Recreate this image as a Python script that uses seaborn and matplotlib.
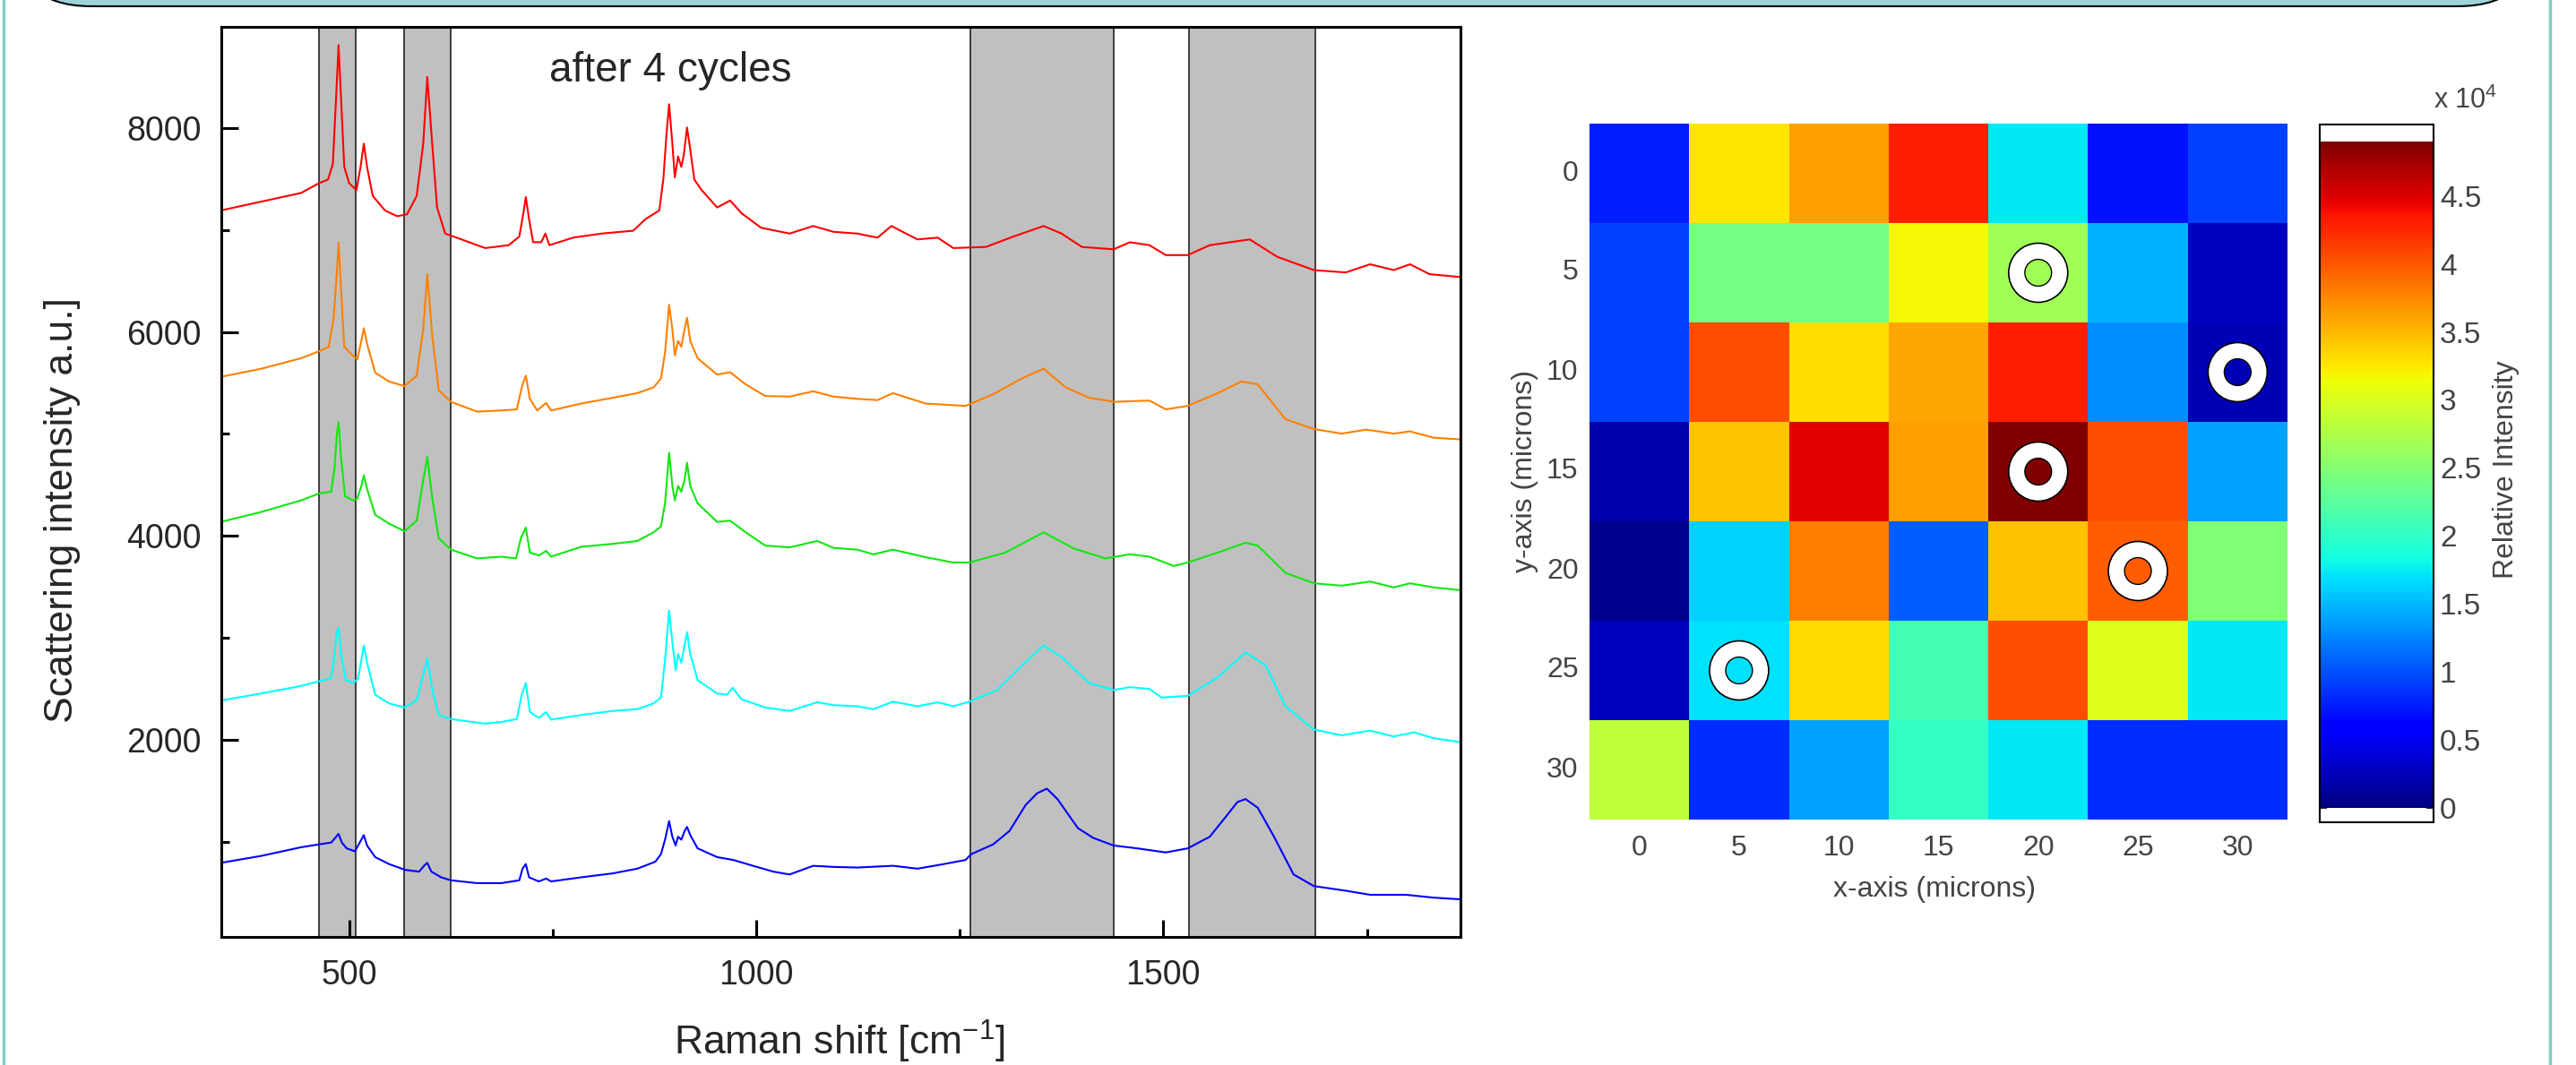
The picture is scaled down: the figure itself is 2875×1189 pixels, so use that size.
import numpy as np
import pandas as pd
import seaborn as sns
import matplotlib.pyplot as plt
import matplotlib.patches as patches
from matplotlib.lines import Line2D
from matplotlib.transforms import IdentityTransform

# Raman spectra: (shift in cm-1, intensity a.u.)
red = [(342.5, 7191), (392, 7277), (441, 7362), (463, 7458), (474, 7493), (480, 7646), (484, 8300),
       (487, 8811), (490, 8300), (494, 7618), (500, 7458), (509, 7390), (514, 7618), (518, 7845),
       (522, 7618), (529, 7333), (544, 7191), (559, 7134), (571, 7152), (583, 7333), (591, 7845),
       (596, 8499), (602, 7845), (608, 7220), (618, 6964), (638, 6907), (667, 6822), (696, 6850),
       (709, 6935), (714, 7163), (717, 7322), (721, 7106), (726, 6879), (736, 6879), (741, 6964),
       (746, 6850), (775, 6924), (810, 6964), (849, 6992), (864, 7106), (881, 7191), (886, 7504),
       (890, 7959), (893, 8232), (897, 7845), (900, 7515), (904, 7720), (908, 7618), (911, 7732),
       (915, 8004), (919, 7788), (924, 7493), (933, 7390), (952, 7220), (968, 7288), (982, 7163),
       (1006, 7021), (1041, 6964), (1070, 7038), (1095, 6981), (1124, 6964), (1149, 6924),
       (1166, 7038), (1198, 6907), (1223, 6924), (1242, 6822), (1282, 6833), (1316, 6935),
       (1353, 7038), (1375, 6964), (1400, 6833), (1439, 6810), (1459, 6879), (1483, 6850),
       (1503, 6753), (1530, 6753), (1557, 6850), (1606, 6907), (1640, 6736), (1685, 6606),
       (1724, 6583), (1754, 6663), (1783, 6606), (1803, 6663), (1827, 6566), (1866, 6537)]

orange = [(342.5, 5560), (392, 5639), (441, 5742), (463, 5810), (475, 5855), (481, 6139), (485, 6594),
          (487, 6878), (490, 6424), (494, 5855), (502, 5787), (510, 5730), (515, 5912), (518, 6037),
          (522, 5884), (532, 5600), (549, 5514), (568, 5469), (583, 5571), (591, 6026), (596, 6566),
          (602, 5969), (610, 5429), (625, 5315), (657, 5219), (687, 5230), (706, 5241), (712, 5457),
          (717, 5571), (722, 5344), (731, 5230), (742, 5304), (748, 5230), (785, 5298), (824, 5355),
          (854, 5400), (874, 5457), (883, 5543), (888, 5798), (893, 6265), (897, 6026), (900, 5770),
          (904, 5912), (908, 5855), (912, 6026), (915, 6139), (919, 5912), (928, 5742), (952, 5582),
          (968, 5605), (987, 5486), (1011, 5372), (1041, 5366), (1070, 5418), (1095, 5366),
          (1124, 5344), (1149, 5332), (1168, 5400), (1208, 5298), (1257, 5275), (1291, 5389),
          (1326, 5543), (1353, 5639), (1380, 5457), (1409, 5355), (1439, 5315), (1483, 5327),
          (1503, 5241), (1530, 5275), (1567, 5400), (1596, 5514), (1616, 5486), (1650, 5145),
          (1685, 5048), (1719, 5003), (1749, 5042), (1783, 5003), (1803, 5025), (1832, 4963),
          (1866, 4946)]

green = [(342.5, 4138), (392, 4235), (441, 4349), (463, 4417), (478, 4434), (482, 4661), (485, 5003),
         (487, 5116), (490, 4775), (495, 4389), (505, 4349), (510, 4366), (515, 4491), (518, 4593),
         (522, 4462), (532, 4207), (549, 4121), (568, 4047), (583, 4150), (591, 4548), (596, 4775),
         (602, 4377), (610, 3979), (625, 3866), (657, 3780), (687, 3797), (705, 3780), (711, 3979),
         (717, 4082), (722, 3837), (733, 3809), (742, 3854), (748, 3797), (785, 3894), (824, 3923),
         (854, 3951), (874, 4036), (883, 4093), (888, 4320), (893, 4815), (897, 4491), (900, 4349),
         (904, 4491), (908, 4434), (912, 4548), (915, 4718), (919, 4491), (928, 4320), (952, 4138),
         (968, 4150), (987, 4036), (1011, 3906), (1041, 3888), (1075, 3951), (1095, 3883),
         (1124, 3866), (1144, 3820), (1168, 3866), (1208, 3792), (1242, 3740), (1262, 3740),
         (1306, 3837), (1353, 4036), (1390, 3877), (1429, 3780), (1459, 3820), (1483, 3797),
         (1513, 3706), (1530, 3740), (1567, 3837), (1601, 3934), (1616, 3905), (1650, 3638),
         (1685, 3536), (1719, 3513), (1754, 3553), (1783, 3496), (1803, 3536), (1832, 3496),
         (1866, 3468)]

cyan = [(342.5, 2387), (392, 2456), (441, 2530), (463, 2575), (478, 2604), (482, 2842), (485, 3070),
        (487, 3098), (490, 2842), (496, 2587), (505, 2558), (511, 2604), (515, 2786), (518, 2927),
        (522, 2757), (532, 2444), (549, 2359), (568, 2319), (583, 2387), (591, 2643), (596, 2802),
        (602, 2501), (610, 2245), (625, 2206), (667, 2160), (687, 2177), (706, 2206), (712, 2444),
        (717, 2558), (722, 2274), (733, 2217), (742, 2274), (748, 2200), (785, 2245), (824, 2285),
        (854, 2302), (874, 2359), (883, 2416), (888, 2786), (893, 3269), (897, 2956), (901, 2683),
        (904, 2842), (908, 2757), (912, 2927), (915, 3058), (919, 2842), (928, 2587), (952, 2456),
        (964, 2444), (971, 2512), (982, 2399), (1011, 2319), (1041, 2285), (1075, 2370),
        (1095, 2342), (1124, 2331), (1144, 2302), (1168, 2376), (1198, 2331), (1223, 2370),
        (1242, 2331), (1262, 2376), (1296, 2490), (1326, 2728), (1353, 2927), (1375, 2814),
        (1409, 2558), (1439, 2490), (1459, 2518), (1483, 2501), (1498, 2416), (1530, 2433),
        (1567, 2615), (1601, 2859), (1626, 2728), (1650, 2331), (1685, 2103), (1719, 2046),
        (1754, 2092), (1783, 2035), (1808, 2075), (1832, 2018), (1866, 1978)]

blue = [(342.5, 796), (392, 864), (441, 949), (463, 977), (478, 995), (484, 1052), (487, 1080),
        (491, 995), (497, 938), (507, 909), (515, 1023), (518, 1068), (522, 966), (532, 852),
        (549, 784), (569, 727), (586, 710), (592, 767), (596, 796), (601, 710), (613, 654),
        (625, 625), (657, 597), (687, 597), (709, 625), (713, 739), (717, 784), (721, 654),
        (733, 614), (742, 642), (748, 614), (785, 654), (824, 693), (854, 739), (876, 807),
        (883, 881), (888, 1023), (893, 1205), (897, 1052), (901, 966), (904, 1052), (908, 1023),
        (912, 1108), (915, 1148), (919, 1068), (928, 938), (952, 852), (972, 824), (996, 767),
        (1021, 710), (1041, 682), (1070, 767), (1095, 756), (1124, 750), (1168, 767), (1198, 739),
        (1227, 779), (1257, 824), (1264, 881), (1291, 977), (1311, 1108), (1331, 1364),
        (1345, 1478), (1357, 1523), (1370, 1421), (1395, 1137), (1414, 1040), (1439, 966),
        (1468, 938), (1503, 898), (1530, 938), (1557, 1052), (1577, 1250), (1591, 1392),
        (1601, 1421), (1616, 1336), (1636, 1052), (1660, 682), (1685, 568), (1724, 523),
        (1754, 483), (1798, 483), (1832, 455), (1866, 438)]

trace_names = ["red", "orange", "green", "cyan", "blue"]
trace_colors = ["#ff0000", "#ff8000", "#10e810", "#00ffff", "#0000ff"]

# highlighted bands (cm-1)
band_lo = [463, 568, 1263, 1531]
band_hi = [508, 625, 1439, 1687]

# SERS intensity map (7 x 7 grid, microns)
map_ticks = [0, 5, 10, 15, 20, 25, 30]
map_values = [
    [7600, 32600, 36300, 42900, 17400, 6900, 9200],
    [9200, 24000, 24000, 31600, 26700, 14600, 2700],
    [9200, 40500, 33000, 35900, 42900, 13000, 2400],
    [2100, 34300, 44600, 36300, 49000, 40500, 13800],
    [700, 16100, 38000, 10700, 34600, 39700, 24700],
    [2700, 16900, 33300, 21100, 40500, 30400, 17300],
    [28400, 8400, 13800, 20100, 17300, 8400, 8400],
]
marked_x = [20, 30, 20, 25, 5]
marked_y = [5, 10, 15, 20, 25]
cbar_ticks = [0, 5000, 10000, 15000, 20000, 25000, 30000, 35000, 40000, 45000]
cbar_labels = ["0", "0.5", "1", "1.5", "2", "2.5", "3", "3.5", "4", "4.5"]

sns.set_style("white")
plt.rcParams["font.family"] = ["Liberation Sans", "DejaVu Sans"]
plt.rcParams["mathtext.fontset"] = "custom"
plt.rcParams["mathtext.rm"] = "Liberation Sans"
plt.rcParams["mathtext.it"] = "Liberation Sans"

W, H = 2875, 1189


def box(x0, y0, x1, y1):
    # pixel box (top-left origin) -> figure fraction rect
    return [x0 / W, 1 - y1 / H, (x1 - x0) / W, (y1 - y0) / H]


fig = plt.figure(figsize=(W / 100, H / 100), dpi=100)

# slide decorations: header bar and side rules
header = patches.FancyBboxPatch((12, H - 7), 2821, 200, boxstyle="round,pad=0,rounding_size=90",
                                facecolor="#9ed3d7", edgecolor="black", linewidth=1.5,
                                transform=IdentityTransform())
fig.add_artist(header)
for xp in [4, 2846]:
    fig.add_artist(Line2D([xp, xp], [0, H], color="#80cfc2", linewidth=2.5,
                          transform=IdentityTransform()))

# ---- left: spectra ----
ax = fig.add_axes(box(247, 30, 1630, 1046))
rows = []
for name, pts in zip(trace_names, [red, orange, green, cyan, blue]):
    for s, c in pts:
        rows.append({"trace": name, "shift": s, "counts": c})
spectra = pd.DataFrame(rows)

for lo, hi in zip(band_lo, band_hi):
    ax.axvspan(lo, hi, facecolor="#c0c0c0", edgecolor="#222222", linewidth=1.2, zorder=0)

sns.lineplot(data=spectra, x="shift", y="counts", hue="trace", hue_order=trace_names,
             palette=dict(zip(trace_names, trace_colors)), estimator=None, sort=False,
             linewidth=1.5, legend=False, ax=ax)

ax.set_xlim(343, 1865)
ax.set_ylim(70, 8990)
ax.set_xticks([500, 1000, 1500])
ax.set_xticks([750, 1250, 1750], minor=True)
ax.set_yticks([2000, 4000, 6000, 8000])
ax.set_yticks([1000, 3000, 5000, 7000], minor=True)
ax.tick_params(which="both", direction="in", width=2.2, color="black",
               bottom=True, left=True, top=False, right=False)
ax.tick_params(which="major", length=13.5, labelsize=27)
ax.tick_params(which="minor", length=6.5)
ax.tick_params(axis="x", pad=18)
ax.tick_params(axis="y", pad=16)
for sp in ax.spines.values():
    sp.set_visible(True)
    sp.set_color("black")
    sp.set_linewidth(2.2)
ax.set_xlabel("")
ax.set_ylabel("")

fig.text(937 / W, 1 - 1163 / H, "Raman shift [cm$^{-1}$]", fontsize=32, ha="center", va="center")
fig.text(70 / W, 1 - 570 / H, "Scattering intensity a.u.]", fontsize=32, rotation=90,
         ha="center", va="center")
fig.text(748 / W, 1 - 79 / H, "after 4 cycles", fontsize=33, ha="center", va="center")

# ---- right: intensity map ----
hax = fig.add_axes(box(1774, 138, 2553, 915))
cax = fig.add_axes(box(2589, 139, 2716, 918))
grid = pd.DataFrame(map_values, index=map_ticks, columns=map_ticks)
sns.heatmap(grid, cmap="jet", vmin=0, vmax=49000, ax=hax, cbar_ax=cax,
            cbar_kws={"ticks": cbar_ticks})

cx = [v / 5 + 0.5 for v in marked_x]
cy = [v / 5 + 0.5 for v in marked_y]
hax.scatter(cx, cy, s=34.5 ** 2, facecolors="none", edgecolors="white", linewidths=13, zorder=3)
hax.scatter(cx, cy, s=47.5 ** 2, facecolors="none", edgecolors="black", linewidths=1.2, zorder=4)
hax.scatter(cx, cy, s=21.5 ** 2, facecolors="none", edgecolors="black", linewidths=1.0, zorder=4)

grey = "#444444"
hax.tick_params(length=0, labelsize=23, labelcolor=grey)
hax.tick_params(axis="x", pad=12)
hax.tick_params(axis="y", pad=9)
plt.setp(hax.get_yticklabels(), rotation=0)
plt.setp(hax.get_xticklabels(), rotation=0)
hax.set_xlabel("")
hax.set_ylabel("")
fig.text(2159 / W, 1 - 993 / H, "x-axis (microns)", fontsize=23, color=grey, ha="center", va="center")
fig.text(1702 / W, 1 - 526 / H, "y-axis (microns)", fontsize=23, color=grey, rotation=90,
         ha="center", va="center")

cbar = hax.collections[0].colorbar
cbar.set_ticklabels(cbar_labels)
cax.tick_params(labelsize=24, labelcolor=grey, color="black", direction="in",
                length=6, width=1.2, left=True, right=True, pad=5)
cax.set_ylim(-1050, 50250)
cbar.outline.set_edgecolor("black")
cbar.outline.set_linewidth(1.5)
fig.text(2797 / W, 1 - 524 / H, "Relative Intensity", fontsize=23, color=grey, rotation=90,
         ha="center", va="center")
fig.text(2752 / W, 1 - 112 / H, "x 10$^4$", fontsize=22, color=grey, ha="center", va="center")

fig.savefig("out.png", dpi=100)
